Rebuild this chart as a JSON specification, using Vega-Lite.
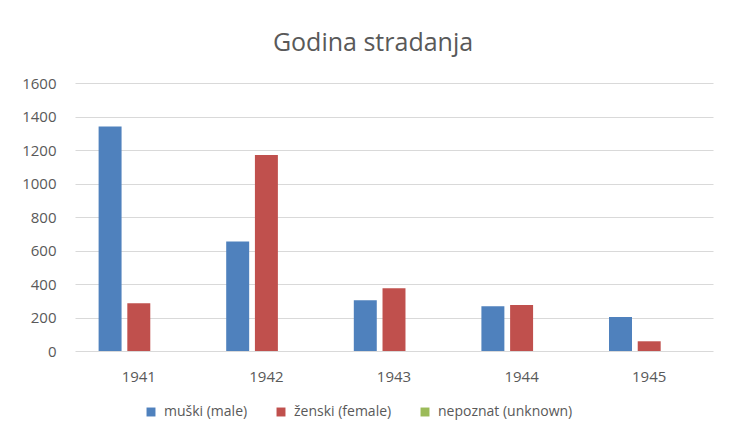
{
  "$schema": "https://vega.github.io/schema/vega-lite/v6.json",
  "width": 638,
  "height": 268,
  "autosize": "none",
  "padding": {"left": 75, "top": 83, "right": 17, "bottom": 86},
  "background": "white",
  "title": {
    "text": "Godina stradanja",
    "font": "Open Sans",
    "fontSize": 25,
    "fontWeight": "normal",
    "color": "#595959",
    "anchor": "middle",
    "offset": 20,
    "dx": -21
  },
  "data": {
    "values": [
      {"year": "1941", "sex": "muški (male)", "count": 1341},
      {"year": "1941", "sex": "ženski (female)", "count": 285},
      {"year": "1941", "sex": "nepoznat (unknown)", "count": 0},
      {"year": "1942", "sex": "muški (male)", "count": 653},
      {"year": "1942", "sex": "ženski (female)", "count": 1170},
      {"year": "1942", "sex": "nepoznat (unknown)", "count": 0},
      {"year": "1943", "sex": "muški (male)", "count": 303},
      {"year": "1943", "sex": "ženski (female)", "count": 375},
      {"year": "1943", "sex": "nepoznat (unknown)", "count": 0},
      {"year": "1944", "sex": "muški (male)", "count": 267},
      {"year": "1944", "sex": "ženski (female)", "count": 275},
      {"year": "1944", "sex": "nepoznat (unknown)", "count": 0},
      {"year": "1945", "sex": "muški (male)", "count": 203},
      {"year": "1945", "sex": "ženski (female)", "count": 58},
      {"year": "1945", "sex": "nepoznat (unknown)", "count": 0}
    ]
  },
  "mark": {"type": "bar"},
  "encoding": {
    "x": {
      "field": "year",
      "type": "nominal",
      "scale": {"paddingInner": 0.37, "paddingOuter": 0.185},
      "axis": {
        "title": null,
        "labelAngle": 0,
        "domain": false,
        "ticks": false,
        "labelPadding": 18,
        "labelFont": "Open Sans",
        "labelFontSize": 15,
        "labelColor": "#595959"
      }
    },
    "xOffset": {
      "field": "sex",
      "type": "nominal",
      "sort": ["muški (male)", "ženski (female)", "nepoznat (unknown)"],
      "scale": {"paddingInner": 0.2, "paddingOuter": 0}
    },
    "y": {
      "field": "count",
      "type": "quantitative",
      "scale": {"domain": [0, 1600], "nice": false},
      "axis": {
        "title": null,
        "values": [0, 200, 400, 600, 800, 1000, 1200, 1400, 1600],
        "format": "d",
        "domain": false,
        "ticks": false,
        "labelPadding": 19,
        "labelFont": "Open Sans",
        "labelFontSize": 15,
        "labelColor": "#595959",
        "gridColor": "#d9d9d9",
        "gridWidth": 1
      }
    },
    "color": {
      "field": "sex",
      "type": "nominal",
      "sort": ["muški (male)", "ženski (female)", "nepoznat (unknown)"],
      "scale": {
        "domain": ["muški (male)", "ženski (female)", "nepoznat (unknown)"],
        "range": ["#4F81BD", "#C0504D", "#9BBB59"]
      },
      "legend": {
        "title": null,
        "orient": "none",
        "direction": "horizontal",
        "legendX": 69,
        "legendY": 322,
        "symbolType": "square",
        "symbolSize": 80,
        "symbolStrokeWidth": 0,
        "labelFont": "Open Sans",
        "labelFontSize": 14,
        "labelColor": "#595959",
        "labelOffset": 6,
        "columnPadding": 26
      }
    }
  },
  "config": {
    "view": {"stroke": null}
  }
}
